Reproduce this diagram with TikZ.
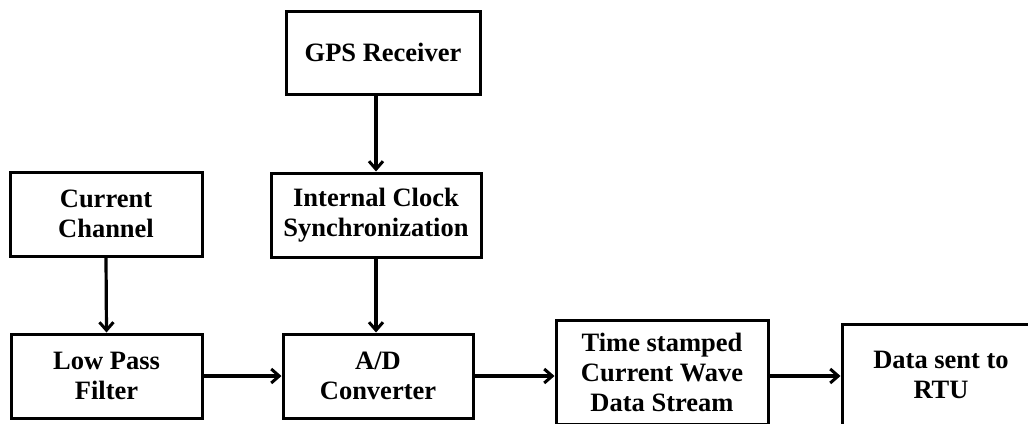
\documentclass[tikz,border=0pt]{standalone}
\usepackage{fontspec}
\setmainfont{Liberation Serif}
\usetikzlibrary{arrows.meta}
\begin{document}
\begin{tikzpicture}[x=1pt,y=-1pt,
  box/.style={draw=black,line width=3pt,fill=white,align=center,inner sep=0pt,
    font=\bfseries\fontsize{26.5}{30}\selectfont},
  arr/.style={line width=3.2pt,-{Straight Barb[length=8pt,width=14pt,line width=3pt]}}]
\useasboundingbox (0,0) rectangle (1028,423);
\clip (0,0) rectangle (1028,423);
\node[box,minimum width=194pt,minimum height=83pt] (gps) at (383,52.5) {GPS Receiver};
\node[box,minimum width=192pt,minimum height=84pt] (cc) at (106,214) {Current\\Channel};
\node[box,minimum width=210pt,minimum height=84pt] (clock) at (376,215) {Internal Clock\\Synchronization};
\node[box,minimum width=191pt,minimum height=84pt] (lpf) at (106.5,376) {Low Pass\\Filter};
\node[box,minimum width=190pt,minimum height=84pt] (ad) at (378,376) {A/D\\Converter};
\node[box,minimum width=212pt,minimum height=104pt] (ts) at (662,372) {Time stamped\\Current Wave\\Data Stream};
\node[box,minimum width=198pt,minimum height=102pt] (ds) at (941,375) {Data sent to\\RTU};
\draw[arr] (clock.north |- gps.south) -- (clock.north);
\draw[arr] (cc.south) -- (lpf.north);
\draw[arr] (clock.south) -- (clock.south |- ad.north);
\draw[arr] (lpf.east) -- (ad.west);
\draw[arr] (ad.east) -- (ad.east -| ts.west);
\draw[arr] (ts.east |- lpf.east) -- (ds.west |- lpf.east);
\end{tikzpicture}
\end{document}
